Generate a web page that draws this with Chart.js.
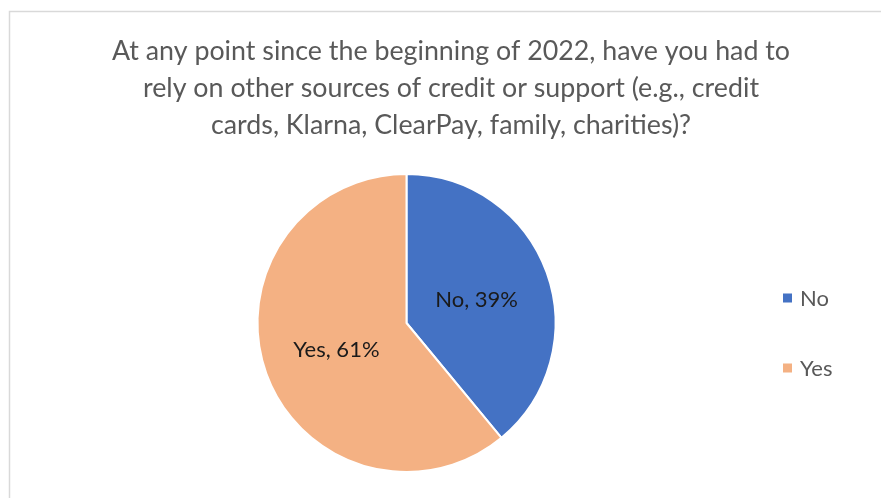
<!DOCTYPE html>
<html>
<head>
<meta charset="utf-8">
<script src="https://cdn.jsdelivr.net/npm/chart.js@4.4.0/dist/chart.umd.min.js"></script>
<style>
  html, body { margin: 0; padding: 0; background: #fff; }
  #wrap { width: 881px; height: 498px; }
</style>
</head>
<body>
<div id="wrap"><canvas id="grafico"></canvas></div>
<script>
// Dados do gráfico
const categorias = ['No', 'Yes'];
const percentuais = [39, 61];
const cores = ['#4472C4', '#F4B183'];
const titulo = [
    'At any point since the beginning of 2022, have you had to',
    'rely on other sources of credit or support (e.g., credit',
    'cards, Klarna, ClearPay, family, charities)?'
];

const fonte = "Lato, 'Open Sans', sans-serif";
const larguraLegenda = 89;

// Moldura cinza em volta da área do gráfico
const moldura = {
    id: 'moldura',
    beforeDraw(chart) {
        const ctx = chart.ctx;
        ctx.save();
        ctx.strokeStyle = '#d9d9d9';
        ctx.lineWidth = 1.5;
        ctx.beginPath();
        ctx.moveTo(9.5, chart.height + 2);
        ctx.lineTo(9.5, 11.5);
        ctx.lineTo(chart.width + 2, 11.5);
        ctx.stroke();
        ctx.restore();
    }
};

// Reserva espaço à direita para a legenda (o título continua centrado na largura toda)
const espacoLegenda = {
    id: 'espacoLegenda',
    afterLayout(chart) {
        chart.chartArea.right -= larguraLegenda;
        chart.chartArea.width = chart.chartArea.right - chart.chartArea.left;
    }
};

// Legenda vertical desenhada à direita da pizza
const legenda = {
    id: 'legenda',
    afterDraw(chart) {
        const ctx = chart.ctx;
        const area = chart.chartArea;
        const x = area.right - 9;
        const centro = (area.top + area.bottom) / 2 + 10;
        const passo = 70;
        ctx.save();
        ctx.font = '22px ' + fonte;
        ctx.textBaseline = 'middle';
        categorias.forEach((cat, i) => {
            const y = centro + (i - (categorias.length - 1) / 2) * passo;
            ctx.fillStyle = cores[i];
            ctx.fillRect(x, y - 4.5, 9, 9);
            ctx.fillStyle = '#595959';
            ctx.fillText(cat, x + 17, y + 1);
        });
        ctx.restore();
    }
};

// Rótulos "Categoria, xx%" no meio de cada fatia
const rotulos = {
    id: 'rotulos',
    afterDatasetsDraw(chart) {
        const ctx = chart.ctx;
        const meta = chart.getDatasetMeta(0);
        ctx.save();
        ctx.font = '22px ' + fonte;
        ctx.fillStyle = '#1a1a1a';
        ctx.textAlign = 'center';
        ctx.textBaseline = 'middle';
        meta.data.forEach((arco, i) => {
            const meio = (arco.startAngle + arco.endAngle) / 2;
            const r = arco.outerRadius * 0.5;
            const x = arco.x + Math.cos(meio) * r;
            const y = arco.y + Math.sin(meio) * r;
            ctx.fillText(categorias[i] + ', ' + percentuais[i] + '%', x, y + 2);
        });
        ctx.restore();
    }
};

const ctx = document.getElementById('grafico').getContext('2d');
new Chart(ctx, {
    type: 'pie',
    data: {
        labels: categorias,
        datasets: [{
            data: percentuais,
            backgroundColor: cores,
            borderColor: '#ffffff',
            borderWidth: 2
        }]
    },
    options: {
        responsive: true,
        maintainAspectRatio: false,
        animation: false,
        layout: {
            padding: { top: 0, bottom: 25, left: 21, right: 0 }
        },
        plugins: {
            title: {
                display: true,
                text: titulo,
                color: '#595959',
                font: { size: 26.8, family: fonte, weight: 'normal', lineHeight: '37px' },
                padding: { top: 33, bottom: 29 }
            },
            legend: { display: false },
            tooltip: { enabled: false }
        }
    },
    plugins: [moldura, espacoLegenda, legenda, rotulos]
});
</script>
</body>
</html>
